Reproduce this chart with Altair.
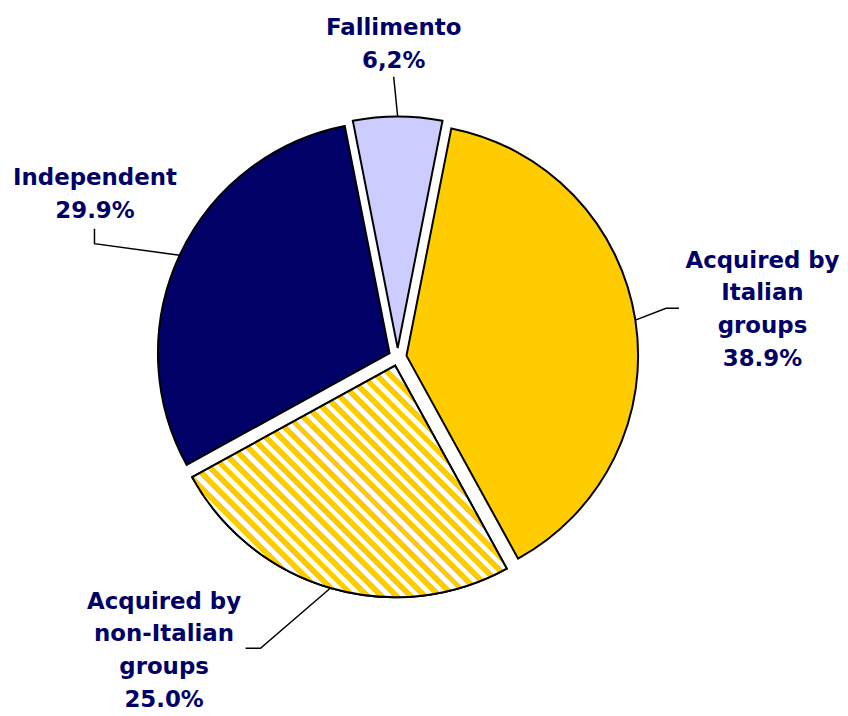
import math
import numpy as np
import pandas as pd
import altair as alt

# ---- data ----
categories = ["Fallimento", "Acquired by Italian groups",
              "Acquired by non-Italian groups", "Independent"]
name_labels = ["Fallimento", "Acquired by\nItalian\ngroups",
               "Acquired by\nnon-Italian\ngroups", "Independent"]
pct_labels = ["6,2%", "38.9%", "25.0%", "29.9%"]
values = [6.2, 38.9, 25.0, 29.9]

# ---- style / layout ----
colors = ["#CCCCFF", "#FFCC00", "#FFCC00", "#000066"]
TEXT_COLOR = "#000066"
CX, CY = 392, 349          # pie centre (plot-area pixels)
R = 233                    # pie radius
EXPLODE = 9                # slice explosion distance
# label anchor (centre x, first baseline y) relative to pie centre
label_offsets = [(-4, -324), (367, -90), (-235, 253), (-304.5, -173)]
# leader line elbow and end points relative to pie centre
elbow_offsets = [(-4, -282), (270, -49), (-138, 293), (-305, -114)]
end_offsets = [(-4, -282), (283, -49), (-153, 293), (-305, -129)]

total = float(sum(values))
base = -math.pi * values[0] / total      # first slice centred on top
ends = np.cumsum(values)
starts = ends - np.array(values)
mids = base + (starts + ends) / 2 / total * 2 * math.pi

df = pd.DataFrame({
    "category": categories,
    "value": values,
    "start": starts,
    "end": ends,
    "px": CX + EXPLODE * np.sin(mids),
    "py": CY - EXPLODE * np.cos(mids),
    "label": [f"{n}\n{p}" for n, p in zip(name_labels, pct_labels)],
    "lx": [CX + o[0] for o in label_offsets],
    "ly": [CY + o[1] for o in label_offsets],
})

rows = []
for i, c in enumerate(categories):
    sx = df.px[i] + R * math.sin(mids[i])
    sy = df.py[i] - R * math.cos(mids[i])
    pts = [(sx, sy),
           (CX + elbow_offsets[i][0], CY + elbow_offsets[i][1]),
           (CX + end_offsets[i][0], CY + end_offsets[i][1])]
    for k, (x, y) in enumerate(pts):
        rows.append({"category": c, "o": k, "x": x, "y": y})
lines_df = pd.DataFrame(rows)

theta_scale = alt.Scale(domain=[0, total],
                        range=[base + 2 * math.pi, base + 4 * math.pi])

# diagonal stripe gradient (gold / white)
N = 38
stops = []
for k in range(N):
    a, m, b = k / N, (k + 0.55) / N, (k + 1) / N
    stops += [alt.GradientStop(color="#FFCC00", offset=a),
              alt.GradientStop(color="#FFCC00", offset=m),
              alt.GradientStop(color="#FFFFFF", offset=m),
              alt.GradientStop(color="#FFFFFF", offset=b)]
stripe = alt.LinearGradient(gradient="linear", stops=stops,
                            x1=0, y1=1, x2=1.126, y2=0.171)

arc_enc = dict(
    theta=alt.Theta("start:Q", scale=theta_scale, stack=None),
    theta2=alt.Theta2("end:Q"),
    x=alt.X("px:Q", scale=None),
    y=alt.Y("py:Q", scale=None),
)

arcs = alt.Chart(df).mark_arc(radius=R, stroke="black", strokeWidth=2).encode(
    color=alt.Color("category:N",
                    scale=alt.Scale(domain=categories, range=colors),
                    legend=None),
    **arc_enc,
)

striped = alt.Chart(df).transform_filter(
    alt.datum.category == "Acquired by non-Italian groups"
).mark_arc(radius=R, stroke="black", strokeWidth=2, fill=stripe).encode(**arc_enc)

leaders = alt.Chart(lines_df).mark_line(color="black", strokeWidth=1.5).encode(
    x=alt.X("x:Q", scale=None),
    y=alt.Y("y:Q", scale=None),
    detail="category:N",
    order="o:Q",
)

labels = alt.Chart(df).mark_text(
    font="DejaVu Sans", fontWeight="bold", fontSize=23, color=TEXT_COLOR,
    align="center", baseline="alphabetic", lineBreak="\n", lineHeight=33,
).encode(
    x=alt.X("lx:Q", scale=None),
    y=alt.Y("ly:Q", scale=None),
    text="label:N",
)

chart = alt.layer(arcs, striped, leaders, labels).properties(
    width=832, height=700, padding=0, background="white"
).configure_view(stroke=None)

chart.save("out.html", embed_options={"renderer": "svg", "actions": False})
